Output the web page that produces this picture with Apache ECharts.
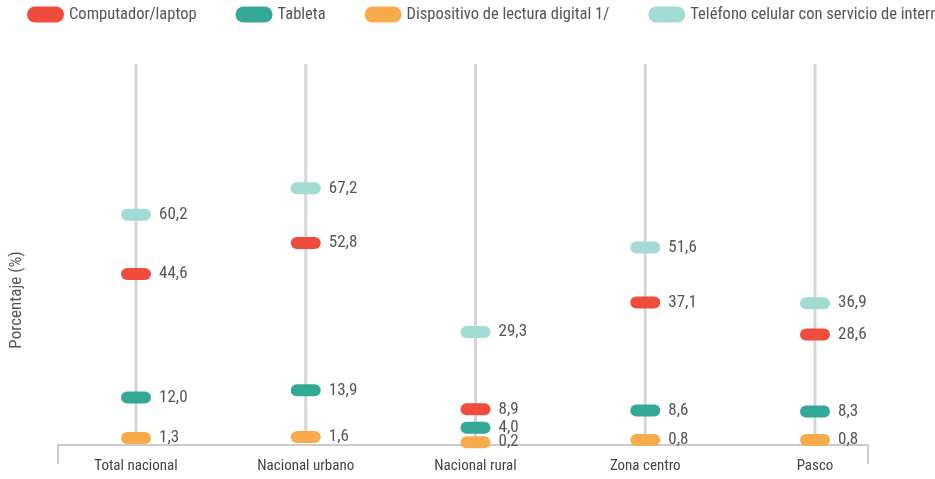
<!DOCTYPE html>
<html>
<head>
<meta charset="utf-8">
<script src="https://cdn.jsdelivr.net/npm/echarts@6/dist/echarts.min.js"></script>
<style>html,body{margin:0;padding:0;background:#fff}#c{width:935px;height:479px}</style>
</head>
<body>
<div id="c"></div>
<script>
var categories = ['Total nacional', 'Nacional urbano', 'Nacional rural', 'Zona centro', 'Pasco'];
var computador = [44.6, 52.8, 8.9, 37.1, 28.6];
var tableta = [12.0, 13.9, 4.0, 8.6, 8.3];
var dispositivo = [1.3, 1.6, 0.2, 0.8, 0.8];
var telefono = [60.2, 67.2, 29.3, 51.6, 36.9];
var stemMax = [100, 100, 100, 100, 100];
var seriesNames = ['Computador/laptop', 'Tableta', 'Dispositivo de lectura digital 1/', 'Teléfono celular con servicio de internet'];
var yAxisTitle = 'Porcentaje (%)';

var FONT = "'Roboto Condensed', 'Liberation Sans Narrow', 'DejaVu Sans Condensed', sans-serif";
var PILL = 'path://M6,0 H24 A6,6 0 0 1 24,12 H6 A6,6 0 0 1 6,0 Z';
var LEGEND_PILL = 'path://M8,0 H29 A8,8 0 0 1 29,16 H8 A8,8 0 0 1 8,0 Z';
var colors = ['#ef4c3d', '#34a896', '#f8ab4a', '#a2dad6'];
var values = [computador, tableta, dispositivo, telefono];

function fmt(p) { return p.value.toFixed(1).replace('.', ','); }

var chart = echarts.init(document.getElementById('c'), null, {renderer: 'canvas'});
var series = [{
  type: 'bar', name: 'stem', data: stemMax, barWidth: 3, silent: true,
  itemStyle: {color: '#d5d5d5'}, z: 1, xAxisIndex: 0, yAxisIndex: 0
}];
for (var i = 0; i < 4; i++) {
  series.push({
    type: 'scatter', name: seriesNames[i], data: values[i],
    symbol: PILL, symbolSize: [30, 12], z: 5,
    xAxisIndex: 0, yAxisIndex: 0,
    itemStyle: {color: colors[i], opacity: 1},
    label: {show: true, position: 'right', distance: 8, formatter: fmt,
      fontFamily: FONT, fontSize: 17, color: '#555'}
  });
}
chart.setOption({
  animation: false,
  color: colors,
  textStyle: {fontFamily: FONT},
  legend: {
    data: seriesNames, left: 22, top: 1, width: 1400, itemGap: 39,
    itemWidth: 37, itemHeight: 16, icon: LEGEND_PILL,
    textStyle: {fontFamily: FONT, fontSize: 16.5, color: '#555'}
  },
  grid: [
    {left: 51.125, right: 35.125, top: 64, bottom: 36},
    {left: 58, right: 67, top: 444, height: 1}
  ],
  xAxis: [
    {type: 'category', gridIndex: 0, data: categories, boundaryGap: true,
      axisLine: {show: false}, axisTick: {show: false},
      axisLabel: {fontFamily: FONT, fontSize: 15, color: '#444', margin: 16}},
    {type: 'value', gridIndex: 1, min: 0, max: 1, interval: 1,
      axisLine: {show: true, lineStyle: {color: '#cccccc', width: 2}},
      axisTick: {show: true, length: 19, lineStyle: {color: '#cccccc', width: 2}},
      axisLabel: {show: false}, splitLine: {show: false}}
  ],
  yAxis: [
    {type: 'value', gridIndex: 0, min: 0, max: 100, show: false, splitLine: {show: false}},
    {type: 'value', gridIndex: 1, show: false}
  ],
  graphic: [{
    type: 'text', x: 17, y: 300, rotation: Math.PI / 2,
    style: {text: yAxisTitle, fontFamily: FONT, fontSize: 17, fill: '#555',
      textAlign: 'center', textVerticalAlign: 'middle'}
  }],
  series: series
});
</script>
</body>
</html>
